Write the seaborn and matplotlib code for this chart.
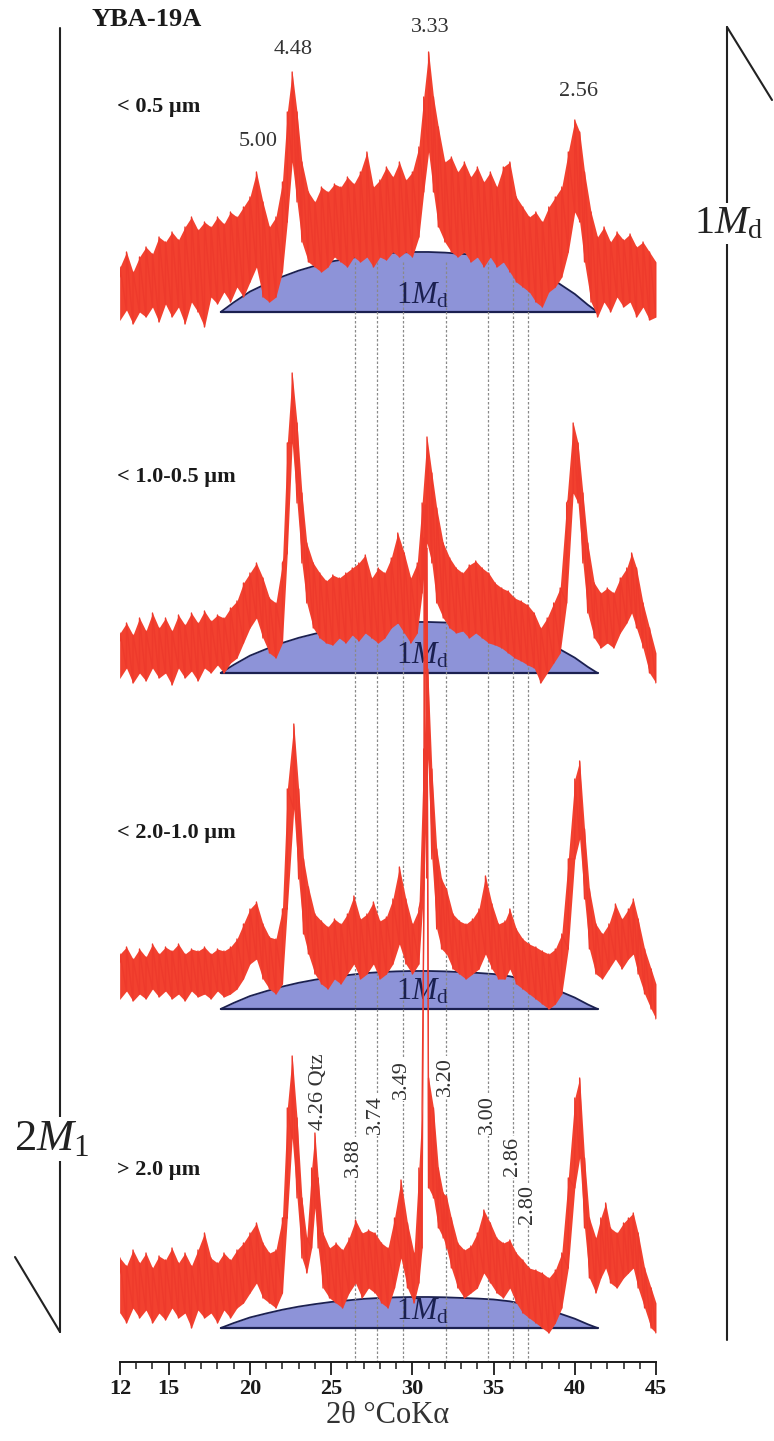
import numpy as np
import pandas as pd
import matplotlib
matplotlib.use("Agg")
import matplotlib.pyplot as plt
import seaborn as sns
from matplotlib.lines import Line2D

# ---------------- data (2θ in degrees, intensities in px above each hump baseline) -------------
p1_tt = [12.0, 12.4, 12.8, 13.2, 13.6, 14.0, 14.4, 14.8, 15.2, 15.6, 16.0, 16.4, 16.8, 17.2, 17.6, 18.0,
         18.4, 18.8, 19.2, 19.6, 20.0, 20.4, 20.8, 21.2, 21.6, 22.0, 22.3, 22.6, 22.9, 23.2, 23.6, 24.0,
         24.4, 24.8, 25.2, 25.6, 26.0, 26.4, 26.8, 27.2, 27.6, 28.0, 28.4, 28.8, 29.2, 29.6, 30.0, 30.4,
         30.7, 31.0, 31.3, 31.6, 32.0, 32.4, 32.8, 33.2, 33.6, 34.0, 34.4, 34.8, 35.2, 35.6, 36.0, 36.4,
         36.8, 37.2, 37.6, 38.0, 38.4, 38.8, 39.2, 39.6, 40.0, 40.3, 40.6, 41.0, 41.4, 41.8, 42.2, 42.6,
         43.0, 43.4, 43.8, 44.2, 44.6, 45.0]
p1_lo = [-8, 2, -12, 0, -5, 5, -10, 8, -5, 5, -12, 10, 0, -15, 15, 8, 20, 10, 25, 15,
         30, 45, 15, 10, 15, 40, 90, 150, 110, 70, 50, 45, 40, 45, 55, 50, 45, 55, 50, 55,
         45, 55, 52, 60, 55, 60, 55, 75, 120, 160, 120, 85, 70, 60, 55, 60, 50, 55, 45, 55,
         45, 50, 40, 30, 25, 20, 10, 5, 20, 25, 35, 60, 100, 90, 50, 10, -5, 10, 0, 15,
         5, 10, -5, 5, -8, -5]
p1_hi = [45, 60, 40, 55, 65, 58, 75, 70, 80, 72, 85, 95, 82, 90, 85, 95, 88, 100, 95, 105,
         115, 140, 110, 85, 95, 130, 200, 240, 200, 150, 120, 110, 125, 120, 128, 125, 135, 128, 140, 160,
         125, 132, 145, 135, 150, 132, 140, 165, 215, 260, 215, 185, 150, 155, 140, 150, 135, 145, 130, 140,
         125, 145, 150, 115, 105, 95, 100, 90, 105, 115, 125, 160, 192, 180, 140, 100, 75, 85, 70, 80,
         72, 78, 65, 70, 60, 50]

p2_tt = [12.0, 12.4, 12.8, 13.2, 13.6, 14.0, 14.4, 14.8, 15.2, 15.6, 16.0, 16.4, 16.8, 17.2, 17.6, 18.0,
         18.4, 18.8, 19.2, 19.6, 20.0, 20.4, 20.8, 21.2, 21.6, 22.0, 22.3, 22.6, 22.9, 23.2, 23.5, 23.9,
         24.3, 24.7, 25.1, 25.5, 25.9, 26.3, 26.7, 27.1, 27.5, 27.9, 28.3, 28.7, 29.1, 29.5, 29.9, 30.3,
         30.6, 30.9, 31.2, 31.5, 31.9, 32.3, 32.7, 33.1, 33.5, 33.9, 34.3, 34.7, 35.1, 35.5, 35.9, 36.3,
         36.7, 37.1, 37.5, 37.9, 38.3, 38.7, 39.1, 39.5, 39.9, 40.2, 40.5, 40.8, 41.2, 41.6, 42.0, 42.4,
         42.8, 43.2, 43.5, 43.8, 44.2, 44.6, 45.0]
p2_lo = [-5, 5, -10, 0, -8, 5, -5, 0, -12, 5, -5, 2, -8, 5, 0, 8, 0, 10, 15, 30,
         45, 55, 35, 20, 15, 30, 120, 230, 170, 110, 70, 45, 35, 30, 28, 35, 30, 38, 32, 40,
         35, 30, 35, 45, 50, 40, 30, 40, 80, 130, 110, 70, 55, 45, 40, 42, 35, 40, 35, 30,
         28, 25, 20, 15, 12, 8, 5, -10, 0, 10, 20, 70, 180, 170, 110, 60, 35, 25, 30, 25,
         40, 50, 60, 45, 25, 0, -10]
p2_hi = [40, 50, 38, 55, 42, 60, 45, 55, 42, 58, 48, 60, 50, 62, 52, 58, 55, 65, 72, 90,
         100, 110, 95, 75, 70, 110, 230, 300, 250, 180, 130, 110, 100, 92, 98, 95, 100, 105, 110, 118,
         95, 105, 100, 115, 140, 120, 95, 110, 170, 236, 200, 165, 130, 115, 105, 100, 108, 112, 105, 100,
         90, 85, 82, 75, 72, 68, 60, 45, 55, 70, 85, 170, 250, 230, 180, 130, 90, 80, 85, 80,
         95, 105, 120, 105, 70, 45, 20]

p3_tt = [12.0, 12.4, 12.8, 13.2, 13.6, 14.0, 14.4, 14.8, 15.2, 15.6, 16.0, 16.4, 16.8, 17.2, 17.6, 18.0,
         18.4, 18.8, 19.2, 19.6, 20.0, 20.4, 20.8, 21.2, 21.6, 22.0, 22.3, 22.7, 23.0, 23.3, 23.6, 24.0,
         24.4, 24.8, 25.2, 25.6, 26.0, 26.4, 26.8, 27.2, 27.6, 28.0, 28.4, 28.8, 29.2, 29.6, 30.0, 30.4,
         30.7, 30.95, 31.2, 31.5, 31.8, 32.1, 32.5, 32.9, 33.3, 33.7, 34.1, 34.5, 34.9, 35.3, 35.7, 36.0,
         36.4, 36.8, 37.2, 37.6, 38.0, 38.4, 38.8, 39.2, 39.6, 40.0, 40.3, 40.6, 40.9, 41.3, 41.7, 42.1,
         42.5, 42.9, 43.3, 43.6, 43.9, 44.3, 44.7, 45.0]
p3_lo = [10, 18, 8, 15, 10, 20, 12, 18, 10, 15, 8, 18, 12, 15, 10, 18, 12, 15, 20, 30,
         45, 50, 30, 20, 15, 25, 100, 200, 130, 75, 55, 35, 25, 20, 30, 25, 35, 45, 30, 35,
         45, 30, 35, 45, 65, 45, 35, 45, 120, 250, 150, 80, 60, 55, 40, 35, 30, 35, 40, 55,
         40, 30, 30, 40, 25, 20, 15, 10, 5, 0, 5, 15, 60, 150, 170, 110, 60, 35, 30, 40,
         50, 40, 50, 55, 35, 15, 0, -10]
p3_hi = [55, 62, 50, 60, 52, 65, 55, 62, 58, 65, 55, 60, 58, 62, 55, 60, 58, 62, 70, 85,
         100, 107, 85, 72, 70, 100, 220, 285, 220, 150, 122, 95, 88, 82, 90, 85, 95, 113, 90, 95,
         107, 88, 92, 110, 142, 110, 85, 100, 260, 340, 240, 160, 130, 120, 95, 88, 85, 90, 100, 133,
         105, 85, 88, 100, 80, 70, 65, 62, 58, 55, 60, 75, 150, 230, 248, 180, 120, 85, 75, 85,
         105, 90, 100, 110, 90, 60, 40, 25]

p4_tt = [12.0, 12.4, 12.8, 13.2, 13.6, 14.0, 14.4, 14.8, 15.2, 15.6, 16.0, 16.4, 16.8, 17.2, 17.6, 18.0,
         18.4, 18.8, 19.2, 19.6, 20.0, 20.4, 20.8, 21.2, 21.6, 22.0, 22.3, 22.6, 22.9, 23.2, 23.5, 23.8,
         24.0, 24.2, 24.5, 24.9, 25.3, 25.7, 26.1, 26.5, 26.9, 27.3, 27.7, 28.1, 28.5, 28.9, 29.3, 29.7,
         30.1, 30.4, 30.6, 30.72, 30.8, 30.88, 31.0, 31.3, 31.6, 31.9, 32.1, 32.4, 32.8, 33.2, 33.6, 34.0,
         34.4, 34.8, 35.2, 35.6, 36.0, 36.4, 36.8, 37.2, 37.6, 38.0, 38.4, 38.8, 39.2, 39.6, 40.0, 40.3,
         40.6, 40.9, 41.3, 41.6, 41.9, 42.2, 42.6, 43.0, 43.3, 43.6, 43.9, 44.3, 44.7, 45.0]
p4_lo = [15, 5, 20, 10, 18, 5, 15, 8, 20, 10, 15, 0, 18, 10, 15, 5, 18, 10, 20, 25,
         35, 45, 30, 25, 20, 35, 110, 190, 130, 70, 55, 80, 120, 80, 40, 30, 25, 20, 35, 45,
         30, 40, 35, 25, 20, 40, 70, 40, 25, 45, 80, 450, 700, 450, 140, 130, 100, 90, 80, 60,
         40, 30, 35, 40, 55, 45, 35, 30, 40, 25, 15, 10, 5, 0, -5, 5, 20, 60, 140, 170,
         100, 50, 35, 50, 60, 45, 40, 50, 55, 60, 40, 20, 0, -5]
p4_hi = [70, 62, 78, 65, 75, 60, 72, 68, 80, 65, 75, 62, 78, 95, 70, 65, 75, 68, 78, 85,
         95, 105, 85, 75, 78, 110, 220, 272, 210, 130, 90, 160, 195, 150, 95, 80, 85, 78, 90, 108,
         95, 98, 95, 85, 80, 110, 148, 105, 75, 160, 220, 790, 823, 780, 250, 220, 160, 135, 132, 110,
         85, 78, 82, 95, 118, 105, 90, 85, 88, 75, 68, 60, 58, 55, 50, 58, 75, 150, 230, 250,
         170, 110, 90, 110, 125, 100, 95, 105, 110, 115, 95, 60, 40, 25]

samples = ["< 0.5 µm", "< 1.0-0.5 µm", "< 2.0-1.0 µm", "> 2.0 µm"]
traces_tt = [p1_tt, p2_tt, p3_tt, p4_tt]
traces_lo = [p1_lo, p2_lo, p3_lo, p4_lo]
traces_hi = [p1_hi, p2_hi, p3_hi, p4_hi]

# 1Md hump (relative profile) and heights per sample
hump_tt = [18.2, 19.0, 20.0, 21.0, 22.0, 23.0, 24.0, 25.0, 26.0, 27.0, 28.0, 29.0, 30.0, 31.0,
           32.0, 33.0, 34.0, 35.0, 36.0, 37.0, 38.0, 39.0, 40.0, 40.8, 41.4]
hump_rel = [0.0, 0.16, 0.34, 0.47, 0.59, 0.69, 0.77, 0.84, 0.89, 0.94, 0.97, 0.99, 1.0, 1.0,
            0.99, 0.97, 0.95, 0.92, 0.86, 0.76, 0.63, 0.48, 0.30, 0.12, 0.0]
hump_height = [60, 51, 38, 31]

# top-sample peak labels (d-spacings, Å)
top_labels = ["5.00", "4.48", "3.33", "2.56"]
top_label_tt = [20.5, 22.65, 31.1, 40.2]

# reference lines (d-spacings, Å) and their 2θ positions
ref_d = ["3.88", "3.74", "3.49", "3.20", "3.00", "2.86", "2.80"]
ref_tt = [26.45, 27.8, 29.4, 32.1, 34.65, 36.2, 37.15]
qtz_label = "4.26 Qtz"
qtz_tt = 24.25

xticks_major = [12, 15, 20, 25, 30, 35, 40, 45]

# ---------------- layout (pixel rows of the reference) -------------------------------------------
W, H = 774, 1441
AX_L, AX_R, AX_B = 120, 656, 1362
base_rows = [312, 673, 1009, 1328]
sample_label_rows = [107, 477, 833, 1170]
top_label_rows = [142, 49, 27, 92]
ref_label_rows = [1158, 1115, 1080, 1077, 1115, 1157, 1204]
qtz_label_row = 1092

RED_FILL = "#f2412f"
RED_LINE = "#ee3a2c"
BLUE = "#8d93d8"
NAVY = "#1b2050"
INK = "#1a1a1a"

sns.set_theme(style="white")
plt.rcParams["font.family"] = ["Liberation Serif", "DejaVu Serif"]
plt.rcParams["mathtext.fontset"] = "custom"
plt.rcParams["mathtext.rm"] = "Liberation Serif"
plt.rcParams["mathtext.it"] = "Liberation Serif:italic"
plt.rcParams["mathtext.bf"] = "Liberation Serif:bold"

fig = plt.figure(figsize=(W / 100, H / 100), dpi=100)
fig.patch.set_facecolor("white")
ax = fig.add_axes([AX_L / W, (H - AX_B) / H, (AX_R - AX_L) / W, AX_B / H])
ax.set_facecolor("white")

# humps
for base, hh in zip(base_rows, hump_height):
    top = [base - r * hh for r in hump_rel]
    ax.fill_between(hump_tt, base, top, color=BLUE, lw=0, zorder=1)
    ax.plot(hump_tt, top, color=NAVY, lw=1.3, zorder=1.5)
    ax.plot([hump_tt[0], hump_tt[-1]], [base, base], color=NAVY, lw=1.6, zorder=1.5)
    ax.text(29.0, base - 9, r"1$\mathit{M}_{\mathrm{d}}$", fontsize=22, color=NAVY,
            ha="left", va="baseline", zorder=3)

# dashed reference lines
ax.vlines(ref_tt, 262, AX_B, colors="#8a8a8a", linestyles=(0, (2.0, 1.6)), lw=0.9, zorder=2)

# red diffraction traces: filled noise band + jagged trace through the read lows/highs
rows = []
for s, tt, lo, hi, base in zip(samples, traces_tt, traces_lo, traces_hi, base_rows):
    assert len(tt) == len(lo) == len(hi), s
    ax.fill_between(tt, [base - v for v in lo], [base - v for v in hi],
                    color=RED_FILL, lw=0, zorder=4)
    for t, a, b in zip(tt, lo, hi):
        rows.append((s, t, base - a))
        rows.append((s, t, base - b))
df = pd.DataFrame(rows, columns=["sample", "tt", "row"])
sns.lineplot(data=df, x="tt", y="row", units="sample", estimator=None, sort=False,
             color=RED_LINE, lw=1.0, ax=ax, zorder=5, legend=False)
ax.set_xlim(12, 45)
ax.set_ylim(AX_B, 0)

# labels on the traces
for lab, t, r in zip(top_labels, top_label_tt, top_label_rows):
    ax.text(t, r, lab, fontsize=16, color="#333333", ha="center", va="center", zorder=6)
for lab, t, r in zip(ref_d, ref_tt, ref_label_rows):
    ax.text(t - 0.05, r, lab, fontsize=16, color="#333333", rotation=90, ha="center", va="center",
            zorder=3, bbox=dict(boxstyle="square,pad=0.08", fc="white", ec="none"))
ax.text(qtz_tt, qtz_label_row, qtz_label, fontsize=16, color="#333333", rotation=90,
        ha="center", va="center", zorder=6)
for lab, r in zip(samples, sample_label_rows):
    ax.text(11.8, r, lab, fontsize=16, fontweight="bold", color=INK, ha="left", va="center",
            zorder=6)

# axis styling
for sp in ["left", "top", "right"]:
    ax.spines[sp].set_visible(False)
ax.spines["bottom"].set_color(INK)
ax.spines["bottom"].set_linewidth(1.4)
ax.set_yticks([])
ax.set_ylabel("")
ax.set_xticks(xticks_major)
ax.set_xticks(range(12, 46), minor=True)
ax.set_xticklabels([str(v) for v in xticks_major], fontsize=16, fontweight="bold", color=INK)
ax.tick_params(axis="x", which="major", bottom=True, direction="out", length=9, width=1.3,
               color=INK, pad=3)
ax.tick_params(axis="x", which="minor", bottom=True, direction="out", length=5, width=1.1,
               color=INK)
ax.set_xlabel("2θ °CoKα", fontsize=22, color="#333333", labelpad=2)

# figure-level decorations
def fx(px):
    return px / W

def fy(py):
    return 1 - py / H

fig.text(fx(147), fy(20), "YBA-19A", fontsize=19, fontweight="bold", color=INK,
         ha="center", va="center")
fig.add_artist(Line2D([fx(60), fx(60)], [fy(28), fy(1332)], color="#222222", lw=1.5))
fig.add_artist(Line2D([fx(15), fx(60)], [fy(1257), fy(1332)], color="#222222", lw=1.5))
fig.add_artist(Line2D([fx(727), fx(727)], [fy(27), fy(1340)], color="#222222", lw=1.5))
fig.add_artist(Line2D([fx(727), fx(772)], [fy(27), fy(100)], color="#222222", lw=1.5))
fig.text(fx(14), fy(1150), r"2$\mathit{M}_{1}$", fontsize=32, color="#222222", ha="left",
         va="baseline", zorder=5, bbox=dict(boxstyle="square,pad=0.05", fc="white", ec="none"))
fig.text(fx(694), fy(233), r"1$\mathit{M}_{\mathrm{d}}$", fontsize=29, color="#222222", ha="left",
         va="baseline", zorder=5, bbox=dict(boxstyle="square,pad=0.05", fc="white", ec="none"))

fig.savefig("out.png", dpi=100, facecolor="white")
